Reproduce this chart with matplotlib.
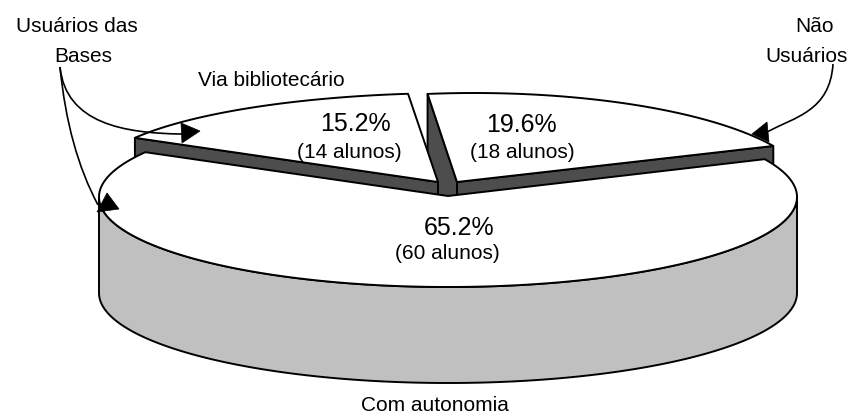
import matplotlib
matplotlib.use("Agg")
import matplotlib.pyplot as plt
import numpy as np
from matplotlib.patches import PathPatch, Polygon
from matplotlib.path import Path

plt.rcParams["font.family"] = ["Liberation Sans", "DejaVu Sans"]

# shares of each slice, clockwise from the large one
shares = [65.2, 15.2, 19.6]
students = [60, 14, 18]

DARK = "#4d4d4d"
GRAY = "#c0c0c0"
DEPTH = 96
LW = 1.4


def arc(cx, cy, rx, ry, a0, a1):
    t = np.radians(np.linspace(a0, a1, 200))
    return np.column_stack([cx + rx * np.cos(t), cy - ry * np.sin(t)])


def wall(ax, p0, p1, color=DARK):
    pts = [p0, p1, (p1[0], p1[1] + DEPTH), (p0[0], p0[1] + DEPTH)]
    ax.add_patch(Polygon(pts, closed=True, fc=color, ec="black", lw=LW, joinstyle="round"))


def wedge_top(ax, apex, points):
    pts = np.vstack([[apex], points])
    ax.add_patch(Polygon(pts, closed=True, fc="white", ec="black", lw=LW, joinstyle="round"))


def curve(ax, verts, codes):
    ax.add_patch(PathPatch(Path(verts, codes), fc="none", ec="black", lw=1.2))


def head(ax, pts):
    ax.add_patch(Polygon(pts, closed=True, fc="black", ec="black", lw=0.5))


def main():

    fig = plt.figure(figsize=(8.49, 4.14), dpi=100)
    ax = fig.add_axes([0, 0, 1, 1])
    ax.set_xlim(0, 849)
    ax.set_ylim(414, 0)
    ax.axis("off")

    spans = [s * 3.6 for s in shares]

    # the big slice is centred on the bottom of the pie
    main_left = 270 - spans[0] / 2
    left_end = main_left - spans[1]
    right_end = left_end - spans[2]

    # right slice
    r_apex = (457, 183)
    r_arc = arc(474, 192, 337, 98, left_end, right_end)
    wall(ax, r_arc[0], r_apex)
    wall(ax, r_apex, r_arc[-1])
    wedge_top(ax, r_apex, r_arc)

    # left slice
    l_apex = (438, 183)
    l_arc = arc(458.2, 177, 364, 83, main_left, left_end)
    wall(ax, l_arc[0], l_apex)
    wedge_top(ax, l_apex, l_arc)

    # big slice, slightly turned by the perspective of the original
    cx, cy, rx, ry = 448, 198, 349, 90
    turn = -2.5
    lower = arc(cx, cy + DEPTH, rx, ry, 180, 360)
    upper = arc(cx, cy, rx, ry, 360, 180)
    ax.add_patch(Polygon(np.vstack([lower, upper]), closed=True, fc=GRAY, ec="black", lw=LW))
    m_arc = arc(cx, cy, rx, ry, main_left + turn, main_left + turn + spans[0])
    wedge_top(ax, (448, 197), m_arc)

    # callouts
    M, C3, C4, L = Path.MOVETO, Path.CURVE3, Path.CURVE4, Path.LINETO
    curve(ax, [(60, 68), (66, 125), (125, 134), (180, 135), (182, 135)], [M, C4, C4, C4, L])
    curve(ax, [(60, 68), (68, 150), (98, 206)], [M, C3, C3])
    curve(ax, [(833, 65), (830, 112), (795, 118), (767, 133)], [M, C4, C4, C4])

    head(ax, [(181, 124), (200, 132), (182, 144)])
    head(ax, [(107, 194), (119, 210), (97, 213)])
    head(ax, [(767, 123), (752, 135), (769, 143)])

    small = 15
    big = 18
    for x, y, s in [
        (77, 26, "Usuários das"),
        (83, 57, "Bases"),
        (271, 81, "Via bibliotecário"),
        (815, 26, "Não"),
        (807, 57, "Usuários"),
        (435, 406, "Com autonomia"),
    ]:
        ax.text(x, y, s, ha="center", va="center", fontsize=small)

    label_pos = [(459, 228, 447, 254), (355, 124, 349, 153), (521, 125, 522, 153)]
    for share, n, (x0, y0, x1, y1) in zip(shares, students, label_pos):
        ax.text(x0, y0, f"{share}%", ha="center", va="center", fontsize=big)
        ax.text(x1, y1, f"({n} alunos)", ha="center", va="center", fontsize=small)

    fig.savefig("out.png", dpi=100)
    plt.close(fig)


if __name__ == "__main__":
    main()
